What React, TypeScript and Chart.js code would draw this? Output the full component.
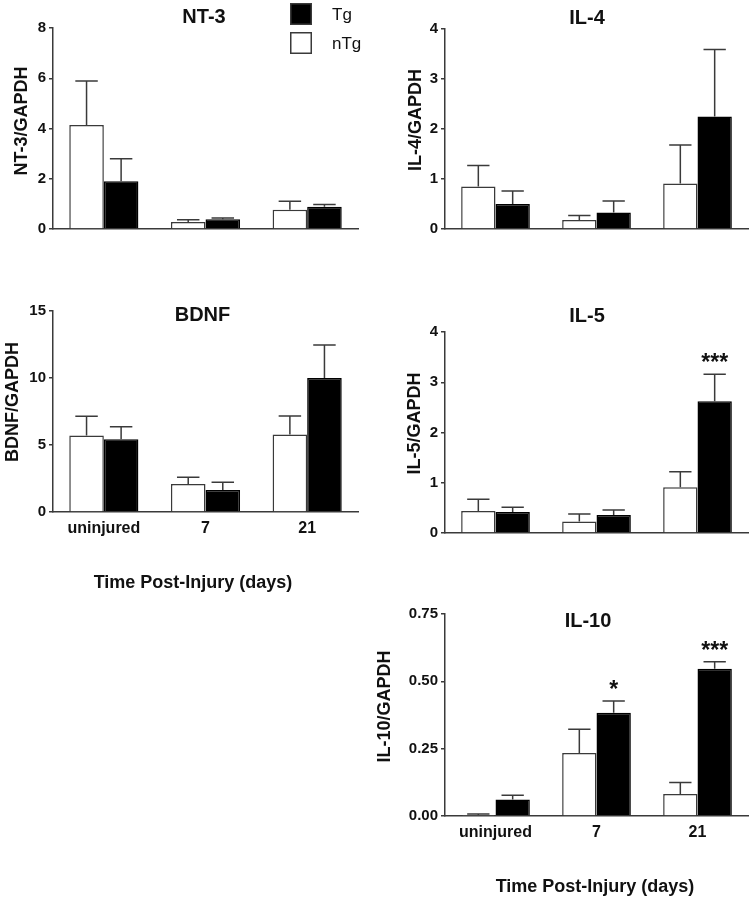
import React, { useEffect, useRef } from "react";
import { Chart, registerables } from "chart.js";
Chart.register(...registerables);

// ---------- data ----------
const categories = ["uninjured", "7", "21"];
const legendTg = "Tg";
const legendNTg = "nTg";
const xAxisTitle = "Time Post-Injury (days)";

const nt3NTg = [4.14, 0.28, 0.77];
const nt3NTgErr = [1.75, 0.09, 0.33];
const nt3Tg = [1.9, 0.39, 0.89];
const nt3TgErr = [0.9, 0.05, 0.09];
const nt3Sig = ["", "", ""];
const nt3Ticks = [0, 2, 4, 6, 8];
const nt3TickLabels = ["0", "2", "4", "6", "8"];

const il4NTg = [0.85, 0.18, 0.91];
const il4NTgErr = [0.42, 0.09, 0.77];
const il4Tg = [0.5, 0.33, 2.25];
const il4TgErr = [0.26, 0.23, 1.34];
const il4Sig = ["", "", ""];
const il4Ticks = [0, 1, 2, 3, 4];
const il4TickLabels = ["0", "1", "2", "3", "4"];

const bdnfNTg = [5.7, 2.09, 5.78];
const bdnfNTgErr = [1.44, 0.5, 1.38];
const bdnfTg = [5.43, 1.64, 10.0];
const bdnfTgErr = [0.94, 0.58, 2.46];
const bdnfSig = ["", "", ""];
const bdnfTicks = [0, 5, 10, 15];
const bdnfTickLabels = ["0", "5", "10", "15"];

const il5NTg = [0.44, 0.23, 0.91];
const il5NTgErr = [0.23, 0.15, 0.31];
const il5Tg = [0.42, 0.36, 2.62];
const il5TgErr = [0.09, 0.1, 0.54];
const il5Sig = ["", "", "***"];
const il5Ticks = [0, 1, 2, 3, 4];
const il5TickLabels = ["0", "1", "2", "3", "4"];

const il10NTg = [0.004, 0.234, 0.082];
const il10NTgErr = [0.003, 0.088, 0.042];
const il10Tg = [0.061, 0.383, 0.547];
const il10TgErr = [0.016, 0.044, 0.026];
const il10Sig = ["", "*", "***"];
const il10Ticks = [0, 0.25, 0.5, 0.75];
const il10TickLabels = ["0.00", "0.25", "0.50", "0.75"];

// ---------- styling / layout ----------
const FONT = "'Liberation Sans', Arial, Helvetica, sans-serif";
const AXIS = "#3a3a3a";
const INK = "#111111";

type Rect = { x: number; y: number; w: number; h: number };
type Area = { l: number; r: number; t: number; b: number };
type PanelCfg = {
  title: string;
  yTitle: string;
  nTg: number[];
  nTgErr: number[];
  tg: number[];
  tgErr: number[];
  sig: string[];
  ticks: number[];
  tickLabels: string[];
  showX: boolean;
  legend: boolean;
  canvas: Rect;
  area: Area;
  titlePos: [number, number];
  yTitlePos: [number, number];
  xTitlePos?: [number, number];
};

const panels: PanelCfg[] = [
  {
    title: "NT-3", yTitle: "NT-3/GAPDH",
    nTg: nt3NTg, nTgErr: nt3NTgErr, tg: nt3Tg, tgErr: nt3TgErr, sig: nt3Sig,
    ticks: nt3Ticks, tickLabels: nt3TickLabels, showX: false, legend: true,
    canvas: { x: 0, y: 0, w: 372, h: 250 }, area: { l: 53, r: 358, t: 28, b: 229 },
    titlePos: [204, 17], yTitlePos: [22.5, 121],
  },
  {
    title: "IL-4", yTitle: "IL-4/GAPDH",
    nTg: il4NTg, nTgErr: il4NTgErr, tg: il4Tg, tgErr: il4TgErr, sig: il4Sig,
    ticks: il4Ticks, tickLabels: il4TickLabels, showX: false, legend: false,
    canvas: { x: 372, y: 0, w: 378, h: 250 }, area: { l: 445, r: 748, t: 29, b: 229 },
    titlePos: [587, 18.5], yTitlePos: [416, 120],
  },
  {
    title: "BDNF", yTitle: "BDNF/GAPDH",
    nTg: bdnfNTg, nTgErr: bdnfNTgErr, tg: bdnfTg, tgErr: bdnfTgErr, sig: bdnfSig,
    ticks: bdnfTicks, tickLabels: bdnfTickLabels, showX: true, legend: false,
    canvas: { x: 0, y: 270, w: 372, h: 330 }, area: { l: 53, r: 358, t: 311, b: 512 },
    titlePos: [202.5, 315.5], yTitlePos: [13, 402], xTitlePos: [193, 583],
  },
  {
    title: "IL-5", yTitle: "IL-5/GAPDH",
    nTg: il5NTg, nTgErr: il5NTgErr, tg: il5Tg, tgErr: il5TgErr, sig: il5Sig,
    ticks: il5Ticks, tickLabels: il5TickLabels, showX: false, legend: false,
    canvas: { x: 372, y: 290, w: 378, h: 270 }, area: { l: 445, r: 748, t: 332, b: 533 },
    titlePos: [587, 316.5], yTitlePos: [415, 423.5],
  },
  {
    title: "IL-10", yTitle: "IL-10/GAPDH",
    nTg: il10NTg, nTgErr: il10NTgErr, tg: il10Tg, tgErr: il10TgErr, sig: il10Sig,
    ticks: il10Ticks, tickLabels: il10TickLabels, showX: true, legend: false,
    canvas: { x: 372, y: 590, w: 378, h: 309 }, area: { l: 445, r: 748, t: 614, b: 816 },
    titlePos: [588, 621], yTitlePos: [385, 706.5], xTitlePos: [595, 887],
  },
];

function Panel({ cfg }: { cfg: PanelCfg }) {
  const ref = useRef<HTMLCanvasElement | null>(null);
  useEffect(() => {
    if (!ref.current) return;
    const c = cfg.canvas;
    const a = cfg.area;
    const errs = [cfg.nTgErr, cfg.tgErr];

    const decor = {
      id: "decor",
      afterDatasetsDraw(chart: any) {
        const ctx = chart.ctx as CanvasRenderingContext2D;
        const ys = chart.scales.y;
        ctx.save();
        ctx.strokeStyle = AXIS;
        ctx.lineWidth = 1.5;
        chart.data.datasets.forEach((ds: any, i: number) => {
          const meta = chart.getDatasetMeta(i);
          meta.data.forEach((bar: any, j: number) => {
            const v = ds.data[j];
            const e = errs[i][j];
            const yTop = ys.getPixelForValue(v + e);
            const props = bar.getProps(["x", "y", "width"], true);
            const cap = props.width * 0.65;
            ctx.beginPath();
            ctx.moveTo(props.x, props.y);
            ctx.lineTo(props.x, yTop);
            ctx.moveTo(props.x - cap / 2, yTop);
            ctx.lineTo(props.x + cap / 2, yTop);
            ctx.stroke();
            if (i === 1 && cfg.sig[j]) {
              ctx.fillStyle = INK;
              ctx.font = `bold 23px ${FONT}`;
              ctx.textAlign = "center";
              ctx.textBaseline = "alphabetic";
              ctx.fillText(cfg.sig[j], props.x, yTop - 4);
            }
          });
        });
        ctx.restore();
      },
      afterDraw(chart: any) {
        const ctx = chart.ctx as CanvasRenderingContext2D;
        ctx.save();
        ctx.fillStyle = INK;
        // panel title
        ctx.font = `bold 20px ${FONT}`;
        ctx.textAlign = "center";
        ctx.textBaseline = "middle";
        ctx.fillText(cfg.title, cfg.titlePos[0] - c.x, cfg.titlePos[1] - c.y);
        // y title
        ctx.save();
        ctx.translate(cfg.yTitlePos[0] - c.x, cfg.yTitlePos[1] - c.y);
        ctx.rotate(-Math.PI / 2);
        ctx.font = `bold 18px ${FONT}`;
        ctx.fillText(cfg.yTitle, 0, 0);
        ctx.restore();
        // x title
        if (cfg.xTitlePos) {
          ctx.font = `bold 18px ${FONT}`;
          ctx.fillText(xAxisTitle, cfg.xTitlePos[0] - c.x, cfg.xTitlePos[1] - c.y);
        }
        // legend
        if (cfg.legend) {
          const items = [
            { label: legendTg, fill: "#000000" },
            { label: legendNTg, fill: "#ffffff" },
          ];
          items.forEach((it, k) => {
            const sx = 290 - c.x;
            const sy = 3 + k * 29 - c.y;
            ctx.fillStyle = it.fill;
            ctx.fillRect(sx, sy, 22, 22);
            ctx.strokeStyle = AXIS;
            ctx.lineWidth = 1.5;
            ctx.strokeRect(sx + 0.75, sy + 0.75, 20.5, 20.5);
            ctx.fillStyle = INK;
            ctx.font = `17px ${FONT}`;
            ctx.textAlign = "left";
            ctx.textBaseline = "middle";
            ctx.fillText(it.label, 332 - c.x, sy + 12);
          });
        }
        ctx.restore();
      },
    };

    const chart = new Chart(ref.current, {
      type: "bar",
      data: {
        labels: categories,
        datasets: [
          {
            label: legendNTg,
            data: cfg.nTg,
            backgroundColor: "#ffffff",
            borderColor: AXIS,
            borderWidth: 1.5,
            categoryPercentage: 0.68,
            barPercentage: 1,
          },
          {
            label: legendTg,
            data: cfg.tg,
            backgroundColor: "#000000",
            borderColor: "#000000",
            borderWidth: 1.5,
            categoryPercentage: 0.68,
            barPercentage: 1,
          },
        ],
      },
      options: {
        responsive: false,
        animation: false,
        devicePixelRatio: 1,
        layout: {
          padding: { top: a.t - c.y, right: c.x + c.w - a.r, bottom: 0, left: 0 },
        },
        plugins: {
          legend: { display: false },
          title: { display: false },
          tooltip: { enabled: false },
        },
        scales: {
          x: {
            type: "category",
            offset: true,
            grid: { display: false, drawTicks: false },
            border: { display: true, color: AXIS, width: 1.5 },
            ticks: {
              display: cfg.showX,
              color: INK,
              padding: 7,
              maxRotation: 0,
              autoSkip: false,
              font: { family: FONT, size: 16, weight: "bold" },
            },
            afterFit: (s: any) => {
              s.height = c.y + c.h - a.b;
            },
          },
          y: {
            min: cfg.ticks[0],
            max: cfg.ticks[cfg.ticks.length - 1],
            grid: {
              display: true,
              drawOnChartArea: false,
              drawTicks: true,
              tickLength: 4,
              color: AXIS,
              lineWidth: 1.5,
            },
            border: { display: true, color: AXIS, width: 1.5 },
            ticks: {
              color: INK,
              padding: 3,
              font: { family: FONT, size: 15, weight: "bold" },
              callback: (_v: any, i: number) => cfg.tickLabels[i],
            },
            afterBuildTicks: (s: any) => {
              s.ticks = cfg.ticks.map((v) => ({ value: v }));
            },
            afterFit: (s: any) => {
              s.width = a.l - c.x;
            },
          },
        },
      } as any,
      plugins: [decor as any],
    });
    return () => chart.destroy();
  }, [cfg]);

  return (
    <canvas
      ref={ref}
      width={cfg.canvas.w}
      height={cfg.canvas.h}
      style={{
        position: "absolute",
        left: cfg.canvas.x,
        top: cfg.canvas.y,
        width: cfg.canvas.w,
        height: cfg.canvas.h,
      }}
    />
  );
}

export default function App() {
  return (
    <div
      style={{
        position: "absolute",
        left: 0,
        top: 0,
        width: 750,
        height: 899,
        background: "#ffffff",
        overflow: "hidden",
      }}
    >
      {panels.map((p) => (
        <Panel key={p.title} cfg={p} />
      ))}
    </div>
  );
}
